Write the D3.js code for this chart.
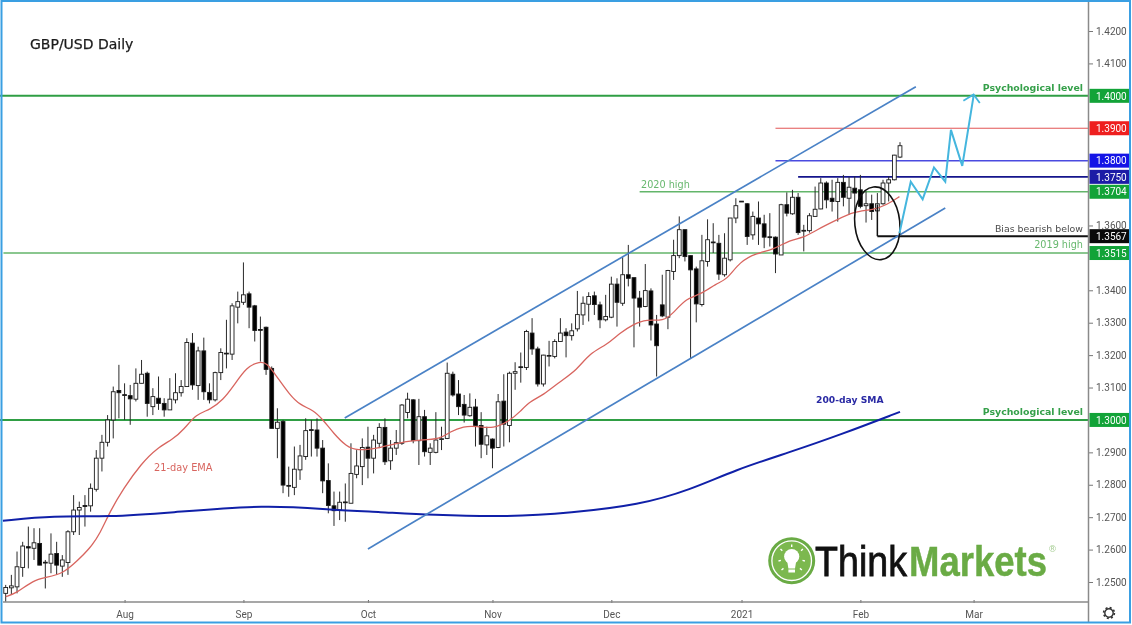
<!DOCTYPE html>
<html><head><meta charset="utf-8">
<script src="https://d3js.org/d3.v7.min.js"></script>
<style>html,body{margin:0;padding:0;background:#fff}svg{display:block}
text{font-family:"DejaVu Sans",sans-serif}
.ax text{font-family:Roboto,sans-serif}</style></head><body>
<div id="c"></div>
<script>
const opens=[1.2465,1.2482,1.2485,1.2545,1.2609,1.2604,1.2619,1.2561,1.2558,1.2588,1.2549,1.2560,1.2655,1.2722,1.2736,1.2735,1.2786,1.2882,1.2931,1.3000,1.3091,1.3078,1.3075,1.3064,1.3113,1.3144,1.3041,1.3067,1.3051,1.3031,1.3062,1.3084,1.3103,1.3237,1.3106,1.3213,1.3085,1.3062,1.3146,1.3206,1.3203,1.3348,1.3363,1.3389,1.3352,1.3279,1.3286,1.3159,1.2974,1.2995,1.2798,1.2792,1.2846,1.2887,1.2970,1.2969,1.2913,1.2813,1.2735,1.2722,1.2747,1.2743,1.2832,1.2856,1.2916,1.2882,1.2928,1.2977,1.2874,1.2913,1.2928,1.3023,1.3062,1.2936,1.3010,1.2900,1.2900,1.2940,1.2943,1.3141,1.3080,1.3048,1.3013,1.3040,1.2983,1.2923,1.2941,1.2915,1.3058,1.2983,1.3144,1.3164,1.3162,1.3268,1.3219,1.3111,1.3197,1.3196,1.3242,1.3271,1.3260,1.3281,1.3324,1.3357,1.3383,1.3355,1.3309,1.3317,1.3419,1.3360,1.3448,1.3439,1.3376,1.3350,1.3398,1.3296,1.3355,1.3317,1.3458,1.3507,1.3587,1.3507,1.3466,1.3356,1.3489,1.3549,1.3545,1.3448,1.3494,1.3623,1.3675,1.3667,1.3571,1.3623,1.3605,1.3565,1.3564,1.3509,1.3664,1.3636,1.3687,1.3585,1.3584,1.3628,1.3651,1.3731,1.3684,1.3674,1.3733,1.3684,1.3715,1.3710,1.3661,1.3667,1.3645,1.3667,1.3731,1.3741,1.3811];
const highs=[1.2491,1.2522,1.2594,1.2624,1.2671,1.2666,1.2666,1.2568,1.2650,1.2624,1.2583,1.2660,1.2768,1.2748,1.2768,1.2804,1.2907,1.2954,1.3015,1.3103,1.3170,1.3113,1.3108,1.3159,1.3185,1.3149,1.3098,1.3134,1.3067,1.3129,1.3144,1.3123,1.3252,1.3268,1.3226,1.3254,1.3113,1.3149,1.3221,1.3309,1.3360,1.3396,1.3486,1.3396,1.3355,1.3319,1.3288,1.3165,1.3036,1.3000,1.2856,1.2918,1.2923,1.3005,1.3000,1.3005,1.2938,1.2866,1.2779,1.2779,1.2804,1.2928,1.2907,1.2943,1.2979,1.2954,1.2990,1.3005,1.2938,1.2969,1.3049,1.3084,1.3064,1.3065,1.3031,1.2928,1.3024,1.2979,1.3177,1.3149,1.3123,1.3077,1.3082,1.3065,1.3024,1.2979,1.2943,1.3080,1.3141,1.3149,1.3178,1.3208,1.3278,1.3314,1.3226,1.3201,1.3244,1.3249,1.3314,1.3283,1.3298,1.3398,1.3381,1.3394,1.3396,1.3365,1.3386,1.3442,1.3437,1.3504,1.3540,1.3439,1.3398,1.3481,1.3406,1.3324,1.3448,1.3463,1.3556,1.3628,1.3587,1.3507,1.3473,1.3571,1.3619,1.3607,1.3571,1.3576,1.3623,1.3684,1.3675,1.3669,1.3643,1.3674,1.3633,1.3638,1.3566,1.3667,1.3702,1.3710,1.3700,1.3602,1.3638,1.3720,1.3746,1.3736,1.3741,1.3746,1.3756,1.3749,1.3751,1.3756,1.3705,1.3695,1.3700,1.3741,1.3751,1.3818,1.3857];
const lows=[1.2439,1.2460,1.2465,1.2516,1.2542,1.2568,1.2552,1.2480,1.2527,1.2522,1.2516,1.2522,1.2645,1.2645,1.2671,1.2717,1.2779,1.2841,1.2918,1.2943,1.3005,1.3000,1.2985,1.3057,1.3113,1.3010,1.3015,1.3031,1.3010,1.3031,1.3051,1.3072,1.3103,1.3093,1.3062,1.3062,1.3051,1.3057,1.3123,1.3159,1.3185,1.3298,1.3355,1.3283,1.3242,1.3180,1.3139,1.2974,1.2882,1.2774,1.2763,1.2768,1.2815,1.2877,1.2887,1.2887,1.2774,1.2712,1.2673,1.2691,1.2686,1.2743,1.2820,1.2799,1.2820,1.2835,1.2913,1.2861,1.2846,1.2892,1.2923,1.3005,1.2928,1.2861,1.2887,1.2861,1.2897,1.2907,1.2941,1.3072,1.3015,1.2992,1.3010,1.2918,1.2882,1.2892,1.2851,1.2913,1.2918,1.2931,1.3093,1.3115,1.3154,1.3201,1.3103,1.3103,1.3165,1.3190,1.3242,1.3193,1.3245,1.3273,1.3293,1.3304,1.3324,1.3283,1.3304,1.3314,1.3288,1.3352,1.3412,1.3224,1.3288,1.3348,1.3245,1.3134,1.3317,1.3280,1.3432,1.3499,1.3489,1.3190,1.3301,1.3350,1.3473,1.3515,1.3432,1.3442,1.3489,1.3607,1.3673,1.3540,1.3556,1.3540,1.3530,1.3535,1.3453,1.3509,1.3628,1.3633,1.3571,1.3520,1.3578,1.3628,1.3650,1.3653,1.3643,1.3612,1.3659,1.3633,1.3643,1.3653,1.3609,1.3617,1.3643,1.3664,1.3674,1.3739,1.3808];
const closes=[1.2483,1.2488,1.2547,1.2611,1.2605,1.2621,1.2552,1.2559,1.2586,1.2552,1.2568,1.2655,1.2722,1.2730,1.2733,1.2789,1.2882,1.2931,1.3000,1.3087,1.3084,1.3076,1.3065,1.3113,1.3141,1.3051,1.3072,1.3051,1.3031,1.3064,1.3084,1.3103,1.3239,1.3108,1.3213,1.3087,1.3062,1.3146,1.3208,1.3204,1.3352,1.3365,1.3386,1.3348,1.3276,1.3277,1.3156,1.2974,1.2993,1.2799,1.2796,1.2848,1.2889,1.2967,1.2968,1.2913,1.2812,1.2736,1.2720,1.2746,1.2745,1.2835,1.2858,1.2915,1.2882,1.2938,1.2977,1.2871,1.2913,1.2930,1.3046,1.3064,1.2936,1.3010,1.2902,1.2913,1.2938,1.2942,1.3144,1.3077,1.3041,1.3015,1.3039,1.2983,1.2925,1.2951,1.2913,1.3056,1.2987,1.3144,1.3149,1.3162,1.3273,1.3219,1.3111,1.3200,1.3199,1.3242,1.3268,1.3260,1.3275,1.3325,1.3360,1.3381,1.3356,1.3309,1.3319,1.3419,1.3363,1.3448,1.3437,1.3376,1.3348,1.3399,1.3293,1.3229,1.3321,1.3461,1.3507,1.3587,1.3504,1.3463,1.3358,1.3491,1.3556,1.3547,1.3450,1.3499,1.3623,1.3661,1.3673,1.3566,1.3628,1.3605,1.3564,1.3563,1.3512,1.3664,1.3638,1.3687,1.3578,1.3583,1.3630,1.3650,1.3731,1.3679,1.3674,1.3733,1.3687,1.3718,1.3700,1.3659,1.3667,1.3643,1.3667,1.3731,1.3741,1.3817,1.3846];

const emaBars=[0,1.9,4.9,7.2,10.2,12.5,14.9,16.7,18.4,20.8,24,26.7,29.6,31.4,33.7,36.1,38.4,40.2,42.6,44.9,46.1,47.9,50.2,52,54.3,56.1,57.9,60.2,62,66.1,70.9,73.2,76.7,78.5,80.9,83.2,86.1,89.1,90.9,92.6,95,97.9,100.9,103.2,106.2,108.5,110.9,113.2,116.2,117.9,120.3,122.7,125.6,127.4,129.7,132.7,135.6,138.6,140.9,143.3,146.8,149.8,153.3,155.7,157.9];
const emaValues=[1.2455,1.2465,1.2506,1.2514,1.2527,1.2563,1.2604,1.2650,1.2717,1.2789,1.2866,1.2913,1.2941,1.2969,1.3019,1.3031,1.3062,1.3103,1.3165,1.3180,1.3177,1.3134,1.3077,1.3046,1.3031,1.3000,1.2959,1.2918,1.2905,1.2913,1.2936,1.2938,1.2940,1.2964,1.2981,1.2981,1.2972,1.2998,1.3026,1.3057,1.3077,1.3118,1.3154,1.3206,1.3232,1.3268,1.3295,1.3311,1.3304,1.3329,1.3376,1.3386,1.3422,1.3432,1.3489,1.3515,1.3525,1.3556,1.3561,1.3587,1.3617,1.3643,1.3648,1.3664,1.3689];
const smaBars=[-0.5,8.4,18.4,28.5,46.2,57.8,66.1,75,89.1,99.7,112,120.9,128.9,138.6,147.4,158];
const smaValues=[1.2689,1.2704,1.2701,1.2713,1.2739,1.2722,1.2716,1.2707,1.2701,1.2713,1.2738,1.2784,1.2846,1.2901,1.2954,1.3025];

const priceTicks=[1.25,1.26,1.27,1.28,1.29,1.31,1.32,1.33,1.34,1.36,1.41,1.42];
const monthBars=[21,42,64,86,107,130,151,171];
const monthLabels=["Aug","Sep","Oct","Nov","Dec","2021","Feb","Mar"];

const levelValues=[1.4000,1.3900,1.3800,1.3750,1.3704,1.3567,1.3515,1.3000];
const levelStartBars=[-1,136,136,140,112,154.0,-0.4,-1];
const levelColors=["#2f9e44","#e25555","#4a4ae0","#14148c","#63b56a","#111111","#63b56a","#2f9e44"];
const levelWidths=[2,1,1.5,1.6,1.3,2,1.3,2];
const badgeColors=["#12a338","#ee1f1f","#1414e6","#1c1ca6","#12a338","#0a0a0a","#12a338","#12a338"];

const channelUpperBars=[59.9,160.8], channelUpperValues=[1.3006,1.4028];
const channelLowerBars=[64,166], channelLowerValues=[1.2602,1.3654];
const forecastBars=[157.9,159.9,162,164,166,167,169,171];
const forecastValues=[1.3576,1.3735,1.3681,1.3779,1.3735,1.3895,1.3784,1.4000];
const arrowBars=[169.2,171,172.1], arrowValues=[1.3985,1.4004,1.3978];
const biasBars=[154,154], biasValues=[1.3665,1.3567];

const W=1132,H=625;
const x=d3.scaleLinear().domain([0,158]).range([5.7,900]);
const y=d3.scaleLinear().domain([1.25,1.42]).range([582,31]);
const svg=d3.select("#c").append("svg").attr("width",W).attr("height",H);
const chart=svg.append("g").style("filter","blur(0.35px)");

const pts=(b,v)=>b.map((d,i)=>[x(d),y(v[i])]);
const line=d3.line();
const smooth=d3.line().curve(d3.curveBasis);

// horizontal levels
chart.selectAll("line.lvl").data(levelValues).join("line").attr("class","lvl")
 .attr("x1",(d,i)=>x(levelStartBars[i])).attr("x2",1089)
 .attr("y1",d=>y(d)).attr("y2",d=>y(d))
 .attr("stroke",(d,i)=>levelColors[i]).attr("stroke-width",(d,i)=>levelWidths[i]);

// candles
const idx=d3.range(opens.length);
chart.selectAll("line.wick").data(idx).join("line").attr("class","wick")
 .attr("x1",i=>x(i)).attr("x2",i=>x(i)).attr("y1",i=>y(highs[i])).attr("y2",i=>y(lows[i]))
 .attr("stroke","#2a2a2a").attr("stroke-width",1);
chart.selectAll("rect.body").data(idx).join("rect").attr("class","body")
 .attr("x",i=>x(i)-1.9).attr("width",3.8)
 .attr("y",i=>y(Math.max(opens[i],closes[i])))
 .attr("height",i=>Math.max(0.8,Math.abs(y(opens[i])-y(closes[i]))))
 .attr("fill",i=>closes[i]>=opens[i]?"#fff":"#000")
 .attr("stroke","#1a1a1a").attr("stroke-width",0.9);

// moving averages
chart.append("path").attr("d",smooth(pts(emaBars,emaValues))).attr("fill","none").attr("stroke","#d8655f").attr("stroke-width",1.3);
chart.append("path").attr("d",smooth(pts(smaBars,smaValues))).attr("fill","none").attr("stroke","#1020a8").attr("stroke-width",2);

// channel
[[channelUpperBars,channelUpperValues],[channelLowerBars,channelLowerValues]].forEach(c=>{
 chart.append("path").attr("d",line(pts(c[0],c[1]))).attr("fill","none").attr("stroke","#4a82c6").attr("stroke-width",1.7);
});
// bias marker and ellipse
chart.append("path").attr("d",line(pts(biasBars,biasValues))).attr("fill","none").attr("stroke","#111").attr("stroke-width",1.5);
chart.append("ellipse").attr("cx",877.3).attr("cy",223.3).attr("rx",22.5).attr("ry",36.5)
 .attr("transform","rotate(-6 877.3 223.3)").attr("fill","none").attr("stroke","#111").attr("stroke-width",1.6);
// forecast
chart.append("path").attr("d",line(pts(forecastBars,forecastValues))).attr("fill","none").attr("stroke","#45b6de").attr("stroke-width",2);
chart.append("path").attr("d",line(pts(arrowBars,arrowValues))).attr("fill","none").attr("stroke","#45b6de").attr("stroke-width",1.8);

// labels
const labels=[
 ["GBP/USD Daily",30,49,"start",14,"#1b1b1b",400,0.25],
 ["Psychological level",1083,91,"end",9.4,"#35a04a",700,0],
 ["Psychological level",1083,415,"end",9.4,"#35a04a",700,0],
 ["Bias bearish below",1083,232,"end",9.4,"#4a4a4a",400,0],
 ["2019 high",1083,248,"end",9.7,"#67b86e",400,0],
 ["2020 high",641,188,"start",9.7,"#67b86e",400,0],
 ["21-day EMA",154,471,"start",9.8,"#d8655f",400,0],
 ["200-day SMA",816,403,"start",9.2,"#2a2aa4",700,0]];
chart.selectAll("text.lb").data(labels).join("text").attr("class","lb")
 .attr("x",d=>d[1]).attr("y",d=>d[2]).attr("text-anchor",d=>d[3]).attr("font-size",d=>d[4])
 .attr("fill",d=>d[5]).attr("font-weight",d=>d[6])
 .attr("stroke",d=>d[7]?d[5]:"none").attr("stroke-width",d=>d[7]).text(d=>d[0]);

// logo
const lg=chart.append("g");
lg.append("circle").attr("cx",791.7).attr("cy",560.7).attr("r",23.5).attr("fill","#6aab45");
lg.append("circle").attr("cx",791.7).attr("cy",560.7).attr("r",19.8).attr("fill","#7cb84f").attr("stroke","#fff").attr("stroke-width",1.3);
lg.append("circle").attr("cx",791.7).attr("cy",556.5).attr("r",7.6).attr("fill","#fff");
lg.append("path").attr("d","M787,560 L796.4,560 L795,568.5 L788.4,568.5 Z M788.4,569.6 h6.6 v3 h-6.6 Z").attr("fill","#fff");
lg.append("path").attr("d","M791.7,544.5 v2.5 M780.5,549 l1.8,1.8 M802.9,549 l-1.8,1.8 M778.5,561 l2.4,-.6 M804.9,561 l-2.4,-.6 M781.5,570 l2,-1.6 M801.9,570 l-2,-1.6")
 .attr("stroke","#fff").attr("stroke-width",1.4).attr("fill","none");
lg.append("text").attr("transform","translate(815,576) scale(1,1.117)").attr("font-size",37.6)
 .style("font-family","'Liberation Sans',sans-serif").attr("fill","#111").attr("stroke","#111").attr("stroke-width",0.7).text("Think");
lg.append("text").attr("transform","translate(909,576) scale(1,1.15)").attr("font-size",36.5).attr("font-weight",700)
 .style("font-family","'Liberation Sans',sans-serif").attr("fill","#6aab45").attr("stroke","#6aab45").attr("stroke-width",0.4).text("Markets");
lg.append("text").attr("x",1048).attr("y",552).attr("font-size",9).attr("fill","#a9cf97").text("®");

// axes
const yAxis=d3.axisRight(y).tickValues(priceTicks).tickFormat(d3.format(".4f")).tickSize(4).tickPadding(3);
const gy=chart.append("g").attr("class","ax").attr("transform","translate(1089,0)").call(yAxis);
gy.select(".domain").remove();
gy.selectAll("line").attr("stroke","#777");
gy.selectAll("text").attr("font-size",10).attr("fill","#555");

const xAxis=d3.axisBottom(x).tickValues(monthBars).tickFormat((d,i)=>monthLabels[i]).tickSize(3).tickPadding(6);
const gx=chart.append("g").attr("class","ax").attr("transform","translate(0,602)").call(xAxis);
gx.select(".domain").remove();
gx.selectAll("line").attr("y1",-2).attr("y2",1).attr("stroke","#666");
gx.selectAll("text").attr("font-size",10).attr("fill","#555");

chart.append("line").attr("x1",3).attr("x2",1089).attr("y1",602).attr("y2",602).attr("stroke","#8a8a8a").attr("stroke-width",1.5);
chart.append("line").attr("x1",1088.5).attr("x2",1088.5).attr("y1",2).attr("y2",622).attr("stroke","#8a8a8a").attr("stroke-width",1.5);

// badges
const bg=chart.append("g").attr("class","ax");
bg.selectAll("rect").data(levelValues).join("rect")
 .attr("x",1089.5).attr("width",40).attr("y",d=>y(d)-7).attr("height",14).attr("fill",(d,i)=>badgeColors[i]);
bg.selectAll("text").data(levelValues).join("text")
 .attr("x",1096).attr("y",d=>y(d)+3.7).attr("font-size",10).attr("fill","#fff").text(d3.format(".4f"));

// gear
const gear=chart.append("g").attr("transform","translate(1109,613)");
gear.append("circle").attr("r",4.2).attr("fill","none").attr("stroke","#333").attr("stroke-width",1.4);
gear.append("circle").attr("r",5.4).attr("fill","none").attr("stroke","#333").attr("stroke-width",1.6).attr("stroke-dasharray","2 2.24");

// frame
chart.append("rect").attr("x",1.5).attr("y",1).attr("width",1128.5).attr("height",621.5).attr("fill","none").attr("stroke","#3a9fe2").attr("stroke-width",2);
</script></body></html>
